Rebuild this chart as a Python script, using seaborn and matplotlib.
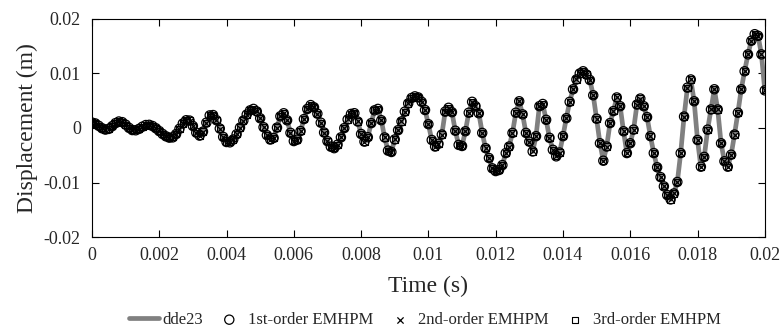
import numpy as np
import pandas as pd
import seaborn as sns
import matplotlib.pyplot as plt

# time grid (s) and displacement (mm)
time = np.round(np.arange(0, 201) * 1e-4, 6)
disp_mm = [
    1.00, 0.83, 0.40, -0.05, -0.29, -0.16, 0.33, 0.89, 1.19, 1.07,
    0.61, 0.03, -0.38, -0.42, -0.16, 0.24, 0.54, 0.58, 0.36, -0.05,
    -0.57, -1.10, -1.53, -1.77, -1.72, -1.12, -0.15, 0.82, 1.42, 1.36,
    0.37, -0.85, -1.40, -0.66, 0.98, 2.31, 2.37, 1.43, -0.10, -1.63,
    -2.57, -2.63, -2.11, -1.15, 0.07, 1.36, 2.47, 3.23, 3.50, 3.03,
    1.78, 0.15, -1.31, -2.12, -1.83, 0.07, 2.15, 2.70, 1.41, -0.89,
    -2.40, -2.14, -0.56, 1.63, 3.48, 4.20, 3.79, 2.63, 0.98, -0.83,
    -2.41, -3.43, -3.70, -3.06, -1.72, -0.02, 1.56, 2.58, 2.71, 1.19,
    -1.10, -2.50, -1.69, 0.89, 3.24, 3.50, 1.43, -1.73, -4.15, -4.40,
    -2.10, -0.40, 1.20, 3.00, 4.50, 5.50, 5.80, 5.60, 4.80, 3.30,
    0.70, -2.20, -3.40, -2.90, -1.20, 3.00, 3.70, 2.90, -0.50, -3.10,
    -3.30, -0.60, 2.80, 4.80, 4.00, 2.70, -0.90, -3.70, -5.50, -7.40,
    -7.90, -7.70, -6.80, -4.60, -3.40, -0.90, 2.80, 4.90, 2.50, -0.90,
    -2.50, -4.30, -1.50, 4.00, 4.40, 1.50, -1.80, -4.00, -5.20, -4.50,
    -1.50, 1.80, 4.80, 7.10, 8.90, 10.0, 10.4, 9.80, 8.80, 6.00,
    1.70, -2.80, -6.00, -3.40, 0.90, 3.10, 5.60, 4.00, -0.60, -4.60,
    -2.80, -0.30, 4.30, 5.40, 4.00, 2.00, -1.50, -4.60, -7.20, -9.00,
    -10.7, -12.3, -13.1, -12.0, -9.90, -4.60, 2.10, 7.40, 8.90, 4.90,
    -2.20, -7.10, -5.30, -0.30, 3.40, 7.10, 3.40, -2.80, -6.10, -7.10,
    -4.90, -1.20, 2.80, 7.10, 10.4, 13.5, 16.0, 17.2, 16.9, 13.5,
    6.90,
]
disp = np.array(disp_mm) * 1e-3

xticks = [0, 0.002, 0.004, 0.006, 0.008, 0.01, 0.012, 0.014, 0.016, 0.018, 0.02]
xtick_labels = ['0', '0.002', '0.004', '0.006', '0.008', '0.01', '0.012',
                '0.014', '0.016', '0.018', '0.02']
yticks = [-0.02, -0.01, 0, 0.01, 0.02]
ytick_labels = ['-0.02', '-0.01', '0', '0.01', '0.02']

df = pd.DataFrame({'t': time, 'x': disp})

sns.set_theme(style='ticks')
plt.rcParams['font.family'] = ['Liberation Serif', 'DejaVu Serif']
plt.rcParams['xtick.direction'] = 'in'
plt.rcParams['ytick.direction'] = 'in'

fig, ax = plt.subplots(figsize=(7.82, 3.32), dpi=100)
fig.subplots_adjust(left=0.1176, right=0.978, top=0.943, bottom=0.286)

sns.lineplot(data=df, x='t', y='x', color='#808080', linewidth=3.4,
             label='dde23', ax=ax, zorder=1)
sns.scatterplot(data=df, x='t', y='x', marker='o', s=44, facecolor='none',
                edgecolor='black', linewidth=0.9, label='1st-order EMHPM',
                ax=ax, zorder=3)
sns.scatterplot(data=df, x='t', y='x', marker='x', s=20, color='black',
                linewidth=0.9, label='2nd-order EMHPM', ax=ax, zorder=4)
sns.scatterplot(data=df, x='t', y='x', marker='s', s=20, facecolor='none',
                edgecolor='black', linewidth=0.8, label='3rd-order EMHPM',
                ax=ax, zorder=2)

ax.set_xlim(0, 0.02)
ax.set_ylim(-0.02, 0.02)
ax.set_xticks(xticks)
ax.set_xticklabels(xtick_labels)
ax.set_yticks(yticks)
ax.set_yticklabels(ytick_labels)
ax.tick_params(axis='x', labelsize=13, length=5, width=0.8,
               top=True, color='black', pad=7)
ax.tick_params(axis='y', labelsize=13, length=5, width=0.8,
               right=True, color='black', pad=8)
for sp in ax.spines.values():
    sp.set_linewidth(0.8)
    sp.set_color('black')
ax.set_xlabel('Time (s)', fontsize=17, labelpad=9)
ax.set_ylabel('Displacement (m)', fontsize=17, labelpad=4)

ax.legend(loc='upper center', bbox_to_anchor=(0.495, -0.275), ncol=4,
          frameon=False, fontsize=12, handlelength=1.8, handletextpad=0.2,
          columnspacing=0.7, markerscale=1.0)

fig.savefig('out.png', dpi=100)
